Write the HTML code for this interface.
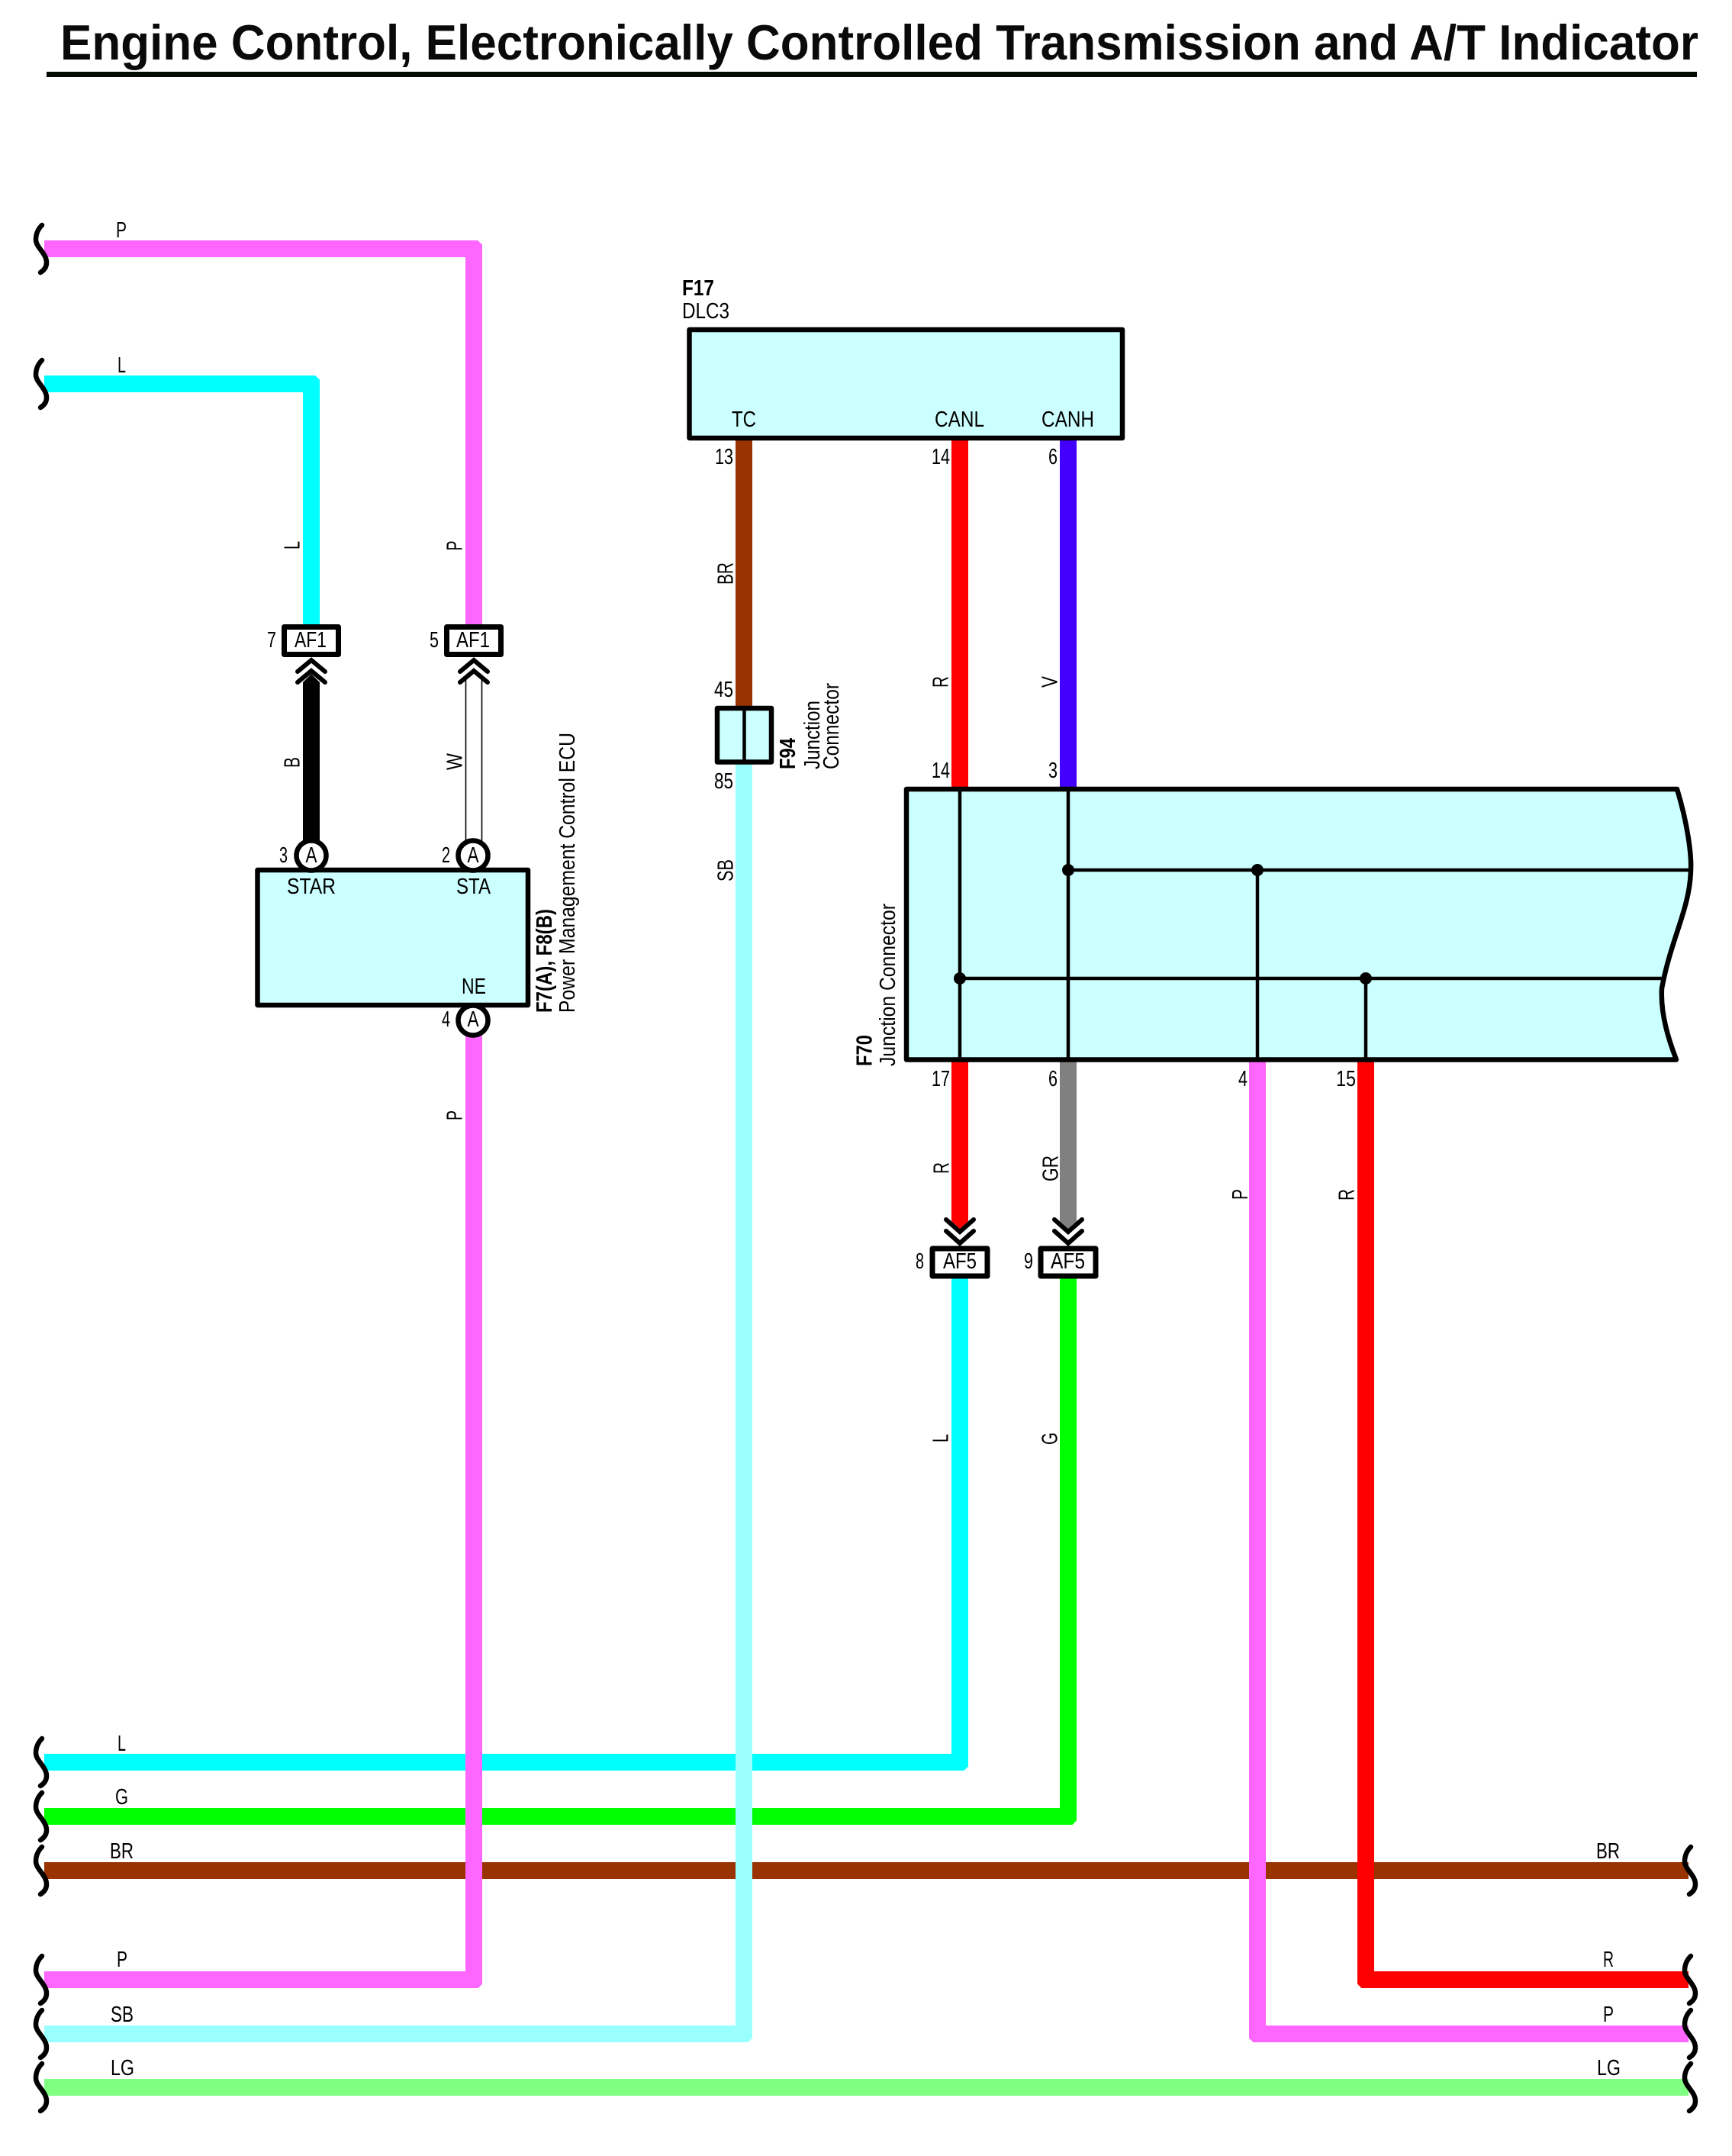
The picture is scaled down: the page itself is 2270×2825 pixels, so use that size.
<!DOCTYPE html>
<html lang="en">
<head>
<meta charset="utf-8">
<title>Engine Control, Electronically Controlled Transmission and A/T Indicator</title>
<style>
html,body{margin:0;padding:0;background:#fff;width:2270px;height:2825px;overflow:hidden}
svg{display:block}
text{font-family:"Liberation Sans",sans-serif;font-size:29px;fill:#000}
.b{font-weight:bold}
.w{fill:none;stroke-width:22;stroke-linejoin:miter;stroke-linecap:butt}
.box{fill:#CCFFFF;stroke:#000;stroke-width:6.5;stroke-linejoin:round}
.af{fill:#fff;stroke:#000;stroke-width:7;stroke-linejoin:round}
.chev{fill:none;stroke:#000;stroke-width:6;stroke-linecap:round;stroke-linejoin:miter}
.int{fill:none;stroke:#000;stroke-width:4.5}
.brk{fill:none;stroke:#000;stroke-width:6.5;stroke-linecap:round}
.pin{fill:#fff;stroke:#000;stroke-width:6.5}
</style>
</head>
<body>
<svg xmlns="http://www.w3.org/2000/svg" width="2270" height="2825" viewBox="0 0 2270 2825">
<defs>
<path id="bk" class="brk" d="M55,-31 C49,-25 47,-18 47,-12 C47,-2 61,6 61,18 C61,24 58,28 53,31"/>
</defs>

<!-- title -->
<text class="b" x="79" y="78" style="font-size:65px;fill:#0a0a0a" textLength="2147" lengthAdjust="spacingAndGlyphs">Engine Control, Electronically Controlled Transmission and A/T Indicator</text>
<rect x="61" y="94" width="2163" height="7" fill="#050a05"/>

<!-- bottom horizontal wires -->
<path class="w" stroke="#80FF80" d="M58,2735 H2213"/>
<path class="w" stroke="#993300" d="M58,2451 H2213"/>
<path class="w" stroke="#00FFFF" d="M58,2309 H1258 V1675"/>
<path class="w" stroke="#00FF00" d="M58,2380 H1400 V1675"/>
<path class="w" stroke="#FF0000" d="M1790,1391 V2594 H2213"/>
<path class="w" stroke="#FF66FF" d="M1648,1391 V2665 H2213"/>
<path class="w" stroke="#FF66FF" d="M58,2594 H621 V1350"/>
<path class="w" stroke="#99FFFF" d="M58,2665 H975 V1000"/>

<!-- top wires -->
<path class="w" stroke="#FF66FF" d="M58,326 H621 V821"/>
<path class="w" stroke="#00FFFF" d="M58,503 H408 V821"/>

<!-- corner chamfers -->
<path fill="#fff" d="M626,315 H632.5 V321 Z M413,492 H419.5 V498 Z M1263,2320.5 H1269.5 V2314 Z M1405,2391.5 H1411.5 V2385 Z M1785,2605.5 H1778.5 V2599 Z M1643,2676.5 H1636.5 V2670 Z M626,2605.5 H632.5 V2599 Z M980,2676.5 H986.5 V2670 Z"/>

<!-- DLC3 wires -->
<path class="w" stroke="#993300" d="M975,575 V928"/>
<path class="w" stroke="#FF0000" d="M1258,575 V1034"/>
<path class="w" stroke="#4400FF" d="M1400,575 V1034"/>

<!-- B and W wires -->
<polygon fill="#000" points="397,1105 397,894 408,883 419,894 419,1105"/>
<rect x="610" y="889" width="22" height="215" fill="#fff"/>
<path d="M610.5,889 V1104 M631.5,889 V1104" stroke="#000" stroke-width="1.6" fill="none"/>

<!-- F70 lower wires -->
<polygon fill="#FF0000" points="1247,1388 1247,1600 1258,1610 1269,1600 1269,1388"/>
<polygon fill="#808080" points="1389,1388 1389,1600 1400,1610 1411,1600 1411,1388"/>

<!-- break marks -->
<use href="#bk" transform="translate(0,326)"/>
<use href="#bk" transform="translate(0,503)"/>
<use href="#bk" transform="translate(0,2309)"/>
<use href="#bk" transform="translate(0,2380)"/>
<use href="#bk" transform="translate(0,2451)"/>
<use href="#bk" transform="translate(0,2594)"/>
<use href="#bk" transform="translate(0,2665)"/>
<use href="#bk" transform="translate(0,2735)"/>
<use href="#bk" transform="translate(2161,2451)"/>
<use href="#bk" transform="translate(2161,2594)"/>
<use href="#bk" transform="translate(2161,2665)"/>
<use href="#bk" transform="translate(2161,2735)"/>

<!-- ECU -->
<rect class="box" x="337.5" y="1140" width="354.5" height="177"/>
<circle class="pin" cx="408" cy="1121" r="19.5"/>
<circle class="pin" cx="620" cy="1121" r="19.5"/>
<circle class="pin" cx="620" cy="1337" r="19.5"/>
<text x="400.5" y="1130" textLength="15" lengthAdjust="spacingAndGlyphs">A</text>
<text x="612.5" y="1130" textLength="15" lengthAdjust="spacingAndGlyphs">A</text>
<text x="612.5" y="1345" textLength="15" lengthAdjust="spacingAndGlyphs">A</text>
<text x="376" y="1171" textLength="64" lengthAdjust="spacingAndGlyphs">STAR</text>
<text x="598" y="1171" textLength="45" lengthAdjust="spacingAndGlyphs">STA</text>
<text x="605" y="1302" textLength="32" lengthAdjust="spacingAndGlyphs">NE</text>
<text x="366" y="1130" textLength="11" lengthAdjust="spacingAndGlyphs">3</text>
<text x="579" y="1130" textLength="11" lengthAdjust="spacingAndGlyphs">2</text>
<text x="579" y="1345" textLength="11" lengthAdjust="spacingAndGlyphs">4</text>
<text class="b" transform="translate(723,1327) rotate(-90)" textLength="136" lengthAdjust="spacingAndGlyphs">F7(A), F8(B)</text>
<text transform="translate(753,1327) rotate(-90)" textLength="367" lengthAdjust="spacingAndGlyphs">Power Management Control ECU</text>

<!-- AF1 connectors -->
<rect class="af" x="372.5" y="821.5" width="71" height="36"/>
<rect class="af" x="585.5" y="821.5" width="71" height="36"/>
<path class="chev" d="M390,880 L408,865 L426,880"/>
<path class="chev" d="M390,894 L408,879 L426,894"/>
<path class="chev" d="M603,880 L621,865 L639,880"/>
<path class="chev" d="M603,894 L621,879 L639,894"/>
<text x="386" y="848" textLength="42" lengthAdjust="spacingAndGlyphs">AF1</text>
<text x="598" y="848" textLength="44" lengthAdjust="spacingAndGlyphs">AF1</text>
<text x="350" y="848" textLength="12" lengthAdjust="spacingAndGlyphs">7</text>
<text x="563" y="848" textLength="12" lengthAdjust="spacingAndGlyphs">5</text>

<!-- wire labels, rotated -->
<text transform="translate(392.5,720) rotate(-90)" textLength="11" lengthAdjust="spacingAndGlyphs">L</text>
<text transform="translate(605.5,721.5) rotate(-90)" textLength="13" lengthAdjust="spacingAndGlyphs">P</text>
<text transform="translate(392.5,1006) rotate(-90)" textLength="14" lengthAdjust="spacingAndGlyphs">B</text>
<text transform="translate(605.5,1009) rotate(-90)" textLength="22" lengthAdjust="spacingAndGlyphs">W</text>
<text transform="translate(605.5,1468) rotate(-90)" textLength="13" lengthAdjust="spacingAndGlyphs">P</text>
<text transform="translate(960.5,766) rotate(-90)" textLength="29" lengthAdjust="spacingAndGlyphs">BR</text>
<text transform="translate(960.5,1155) rotate(-90)" textLength="29" lengthAdjust="spacingAndGlyphs">SB</text>
<text transform="translate(1242.5,901) rotate(-90)" textLength="15" lengthAdjust="spacingAndGlyphs">R</text>
<text transform="translate(1385.5,901) rotate(-90)" textLength="15" lengthAdjust="spacingAndGlyphs">V</text>
<text transform="translate(1243.5,1538) rotate(-90)" textLength="15" lengthAdjust="spacingAndGlyphs">R</text>
<text transform="translate(1386.5,1548) rotate(-90)" textLength="34" lengthAdjust="spacingAndGlyphs">GR</text>
<text transform="translate(1635,1572) rotate(-90)" textLength="14" lengthAdjust="spacingAndGlyphs">P</text>
<text transform="translate(1774.5,1573) rotate(-90)" textLength="15" lengthAdjust="spacingAndGlyphs">R</text>
<text transform="translate(1242.5,1890) rotate(-90)" textLength="11" lengthAdjust="spacingAndGlyphs">L</text>
<text transform="translate(1385.5,1893) rotate(-90)" textLength="16" lengthAdjust="spacingAndGlyphs">G</text>

<!-- DLC3 -->
<text class="b" x="894" y="387" textLength="42" lengthAdjust="spacingAndGlyphs">F17</text>
<text x="894" y="417" textLength="62" lengthAdjust="spacingAndGlyphs">DLC3</text>
<rect class="box" x="903.5" y="432" width="567.5" height="142"/>
<text x="959" y="559" textLength="32" lengthAdjust="spacingAndGlyphs">TC</text>
<text x="1225" y="559" textLength="65" lengthAdjust="spacingAndGlyphs">CANL</text>
<text x="1365" y="559" textLength="69" lengthAdjust="spacingAndGlyphs">CANH</text>
<text x="937" y="608" textLength="24" lengthAdjust="spacingAndGlyphs">13</text>
<text x="1221" y="608" textLength="24" lengthAdjust="spacingAndGlyphs">14</text>
<text x="1374" y="608" textLength="12" lengthAdjust="spacingAndGlyphs">6</text>
<text x="936" y="913" textLength="25" lengthAdjust="spacingAndGlyphs">45</text>
<text x="936" y="1033" textLength="25" lengthAdjust="spacingAndGlyphs">85</text>
<text x="1221" y="1019" textLength="24" lengthAdjust="spacingAndGlyphs">14</text>
<text x="1374" y="1019" textLength="12" lengthAdjust="spacingAndGlyphs">3</text>

<!-- F94 -->
<rect class="box" x="940" y="928" width="71" height="70.5"/>
<path d="M975.5,928 V998" stroke="#000" stroke-width="4.5" fill="none"/>
<text class="b" transform="translate(1042,1008) rotate(-90)" textLength="41" lengthAdjust="spacingAndGlyphs">F94</text>
<text transform="translate(1074,1008) rotate(-90)" textLength="90" lengthAdjust="spacingAndGlyphs">Junction</text>
<text transform="translate(1099,1008) rotate(-90)" textLength="113" lengthAdjust="spacingAndGlyphs">Connector</text>

<!-- F70 -->
<path class="box" d="M2198,1034 H1188 V1388.5 H2197 C2188,1365 2176,1330 2178,1295 C2190,1230 2215,1190 2216,1140 C2217,1120 2212,1080 2198,1034 Z"/>
<path class="int" d="M1258,1034 V1388 M1400,1034 V1388 M1400,1140 H2216 M1648,1140 V1388 M1258,1282 H2178 M1790,1282 V1388"/>
<circle cx="1400" cy="1140" r="8"/>
<circle cx="1648" cy="1140" r="8"/>
<circle cx="1258" cy="1282" r="8"/>
<circle cx="1790" cy="1282" r="8"/>
<text class="b" transform="translate(1142.5,1397) rotate(-90)" textLength="41" lengthAdjust="spacingAndGlyphs">F70</text>
<text transform="translate(1173,1397) rotate(-90)" textLength="213" lengthAdjust="spacingAndGlyphs">Junction Connector</text>
<text x="1221" y="1423" textLength="24" lengthAdjust="spacingAndGlyphs">17</text>
<text x="1374" y="1423" textLength="12" lengthAdjust="spacingAndGlyphs">6</text>
<text x="1623" y="1423" textLength="12" lengthAdjust="spacingAndGlyphs">4</text>
<text x="1751" y="1423" textLength="26" lengthAdjust="spacingAndGlyphs">15</text>

<!-- AF5 connectors -->
<path class="chev" d="M1240,1598 L1258,1614 L1276,1598"/>
<path class="chev" d="M1240,1613 L1258,1629 L1276,1613"/>
<path class="chev" d="M1382,1598 L1400,1614 L1418,1598"/>
<path class="chev" d="M1382,1613 L1400,1629 L1418,1613"/>
<rect class="af" x="1222" y="1636" width="72" height="36"/>
<rect class="af" x="1364" y="1636" width="72" height="36"/>
<text x="1236" y="1662" textLength="44" lengthAdjust="spacingAndGlyphs">AF5</text>
<text x="1377" y="1662" textLength="45" lengthAdjust="spacingAndGlyphs">AF5</text>
<text x="1200" y="1662" textLength="11" lengthAdjust="spacingAndGlyphs">8</text>
<text x="1342" y="1662" textLength="12" lengthAdjust="spacingAndGlyphs">9</text>

<!-- horizontal wire labels -->
<text x="152" y="311" textLength="14" lengthAdjust="spacingAndGlyphs">P</text>
<text x="154" y="488" textLength="11" lengthAdjust="spacingAndGlyphs">L</text>
<text x="154" y="2294" textLength="11" lengthAdjust="spacingAndGlyphs">L</text>
<text x="151" y="2364" textLength="17" lengthAdjust="spacingAndGlyphs">G</text>
<text x="144" y="2435" textLength="31" lengthAdjust="spacingAndGlyphs">BR</text>
<text x="153" y="2577" textLength="14" lengthAdjust="spacingAndGlyphs">P</text>
<text x="145" y="2649" textLength="30" lengthAdjust="spacingAndGlyphs">SB</text>
<text x="145" y="2719" textLength="31" lengthAdjust="spacingAndGlyphs">LG</text>
<text x="2092" y="2435" textLength="31" lengthAdjust="spacingAndGlyphs">BR</text>
<text x="2101" y="2577" textLength="14" lengthAdjust="spacingAndGlyphs">R</text>
<text x="2101" y="2649" textLength="14" lengthAdjust="spacingAndGlyphs">P</text>
<text x="2093" y="2719" textLength="31" lengthAdjust="spacingAndGlyphs">LG</text>
</svg>
</body>
</html>
